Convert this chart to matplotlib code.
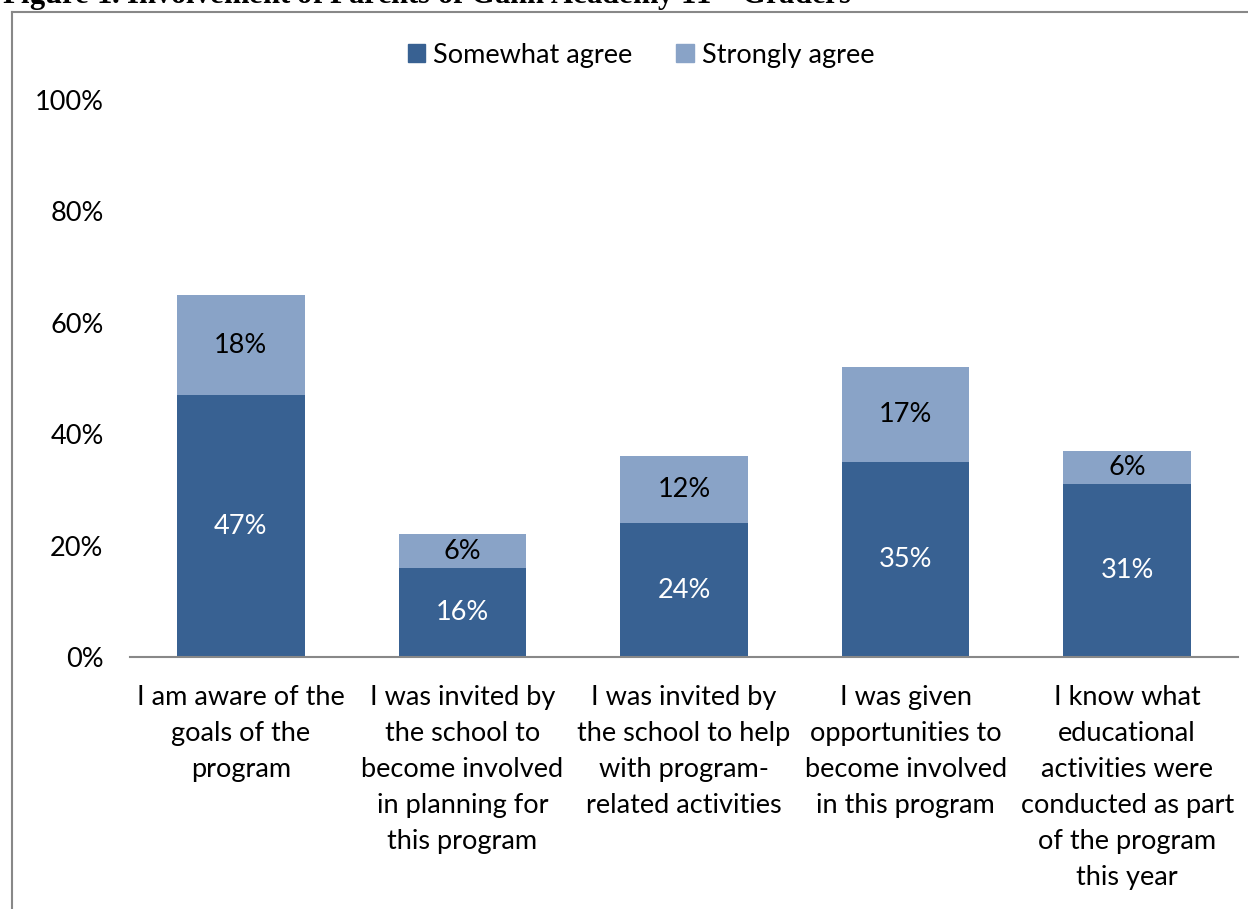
import matplotlib
matplotlib.use("Agg")
import matplotlib.pyplot as plt
from matplotlib.patches import Rectangle
from matplotlib.lines import Line2D

categories = [
    "I am aware of the\ngoals of the\nprogram",
    "I was invited by\nthe school to\nbecome involved\nin planning for\nthis program",
    "I was invited by\nthe school to help\nwith program-\nrelated activities",
    "I was given\nopportunities to\nbecome involved\nin this program",
    "I know what\neducational\nactivities were\nconducted as part\nof the program\nthis year",
]
somewhat_agree = [47, 16, 24, 35, 31]
strongly_agree = [18, 6, 12, 17, 6]
y_ticks = [0, 20, 40, 60, 80, 100]

DARK = "#386192"
LIGHT = "#89A3C7"
FONT = "Lato"
FS = 19.5

W, H = 1248, 909
fig = plt.figure(figsize=(W / 100, H / 100), dpi=100)

# outer chart frame (left and top edges visible)
fig.add_artist(Line2D([12 / W, 12 / W], [0, 1 - 12 / H], color="#888888", lw=1.5))
fig.add_artist(Line2D([12 / W, 1], [1 - 12 / H, 1 - 12 / H], color="#888888", lw=1.5))

# figure caption, partly above the frame
fig.text(2 / W, 1 - 4 / H, "Figure 1. Involvement of Parents of Gann Academy 11$^{\\mathrm{th}}$ Graders",
         family="Liberation Serif", weight="bold", fontsize=22, ha="left", va="baseline")

x0, x1 = 130, 1238
y0, y1 = 657, 100
ax = fig.add_axes([x0 / W, 1 - y0 / H, (x1 - x0) / W, (y0 - y1) / H])

pos = list(range(len(categories)))
bw = 0.575
ax.bar(pos, somewhat_agree, width=bw, color=DARK, label="Somewhat agree")
ax.bar(pos, strongly_agree, width=bw, bottom=somewhat_agree, color=LIGHT, label="Strongly agree")

for i, (a, b) in enumerate(zip(somewhat_agree, strongly_agree)):
    ax.text(i, a / 2, f"{a}%", ha="center", va="center", color="white", fontsize=FS, family=FONT)
    ax.text(i, a + b / 2, f"{b}%", ha="center", va="center", color="black", fontsize=FS, family=FONT)

ax.set_xlim(-0.5, len(categories) - 0.5)
ax.set_ylim(0, 100)
ax.set_yticks(y_ticks)
ax.set_yticklabels([f"{t}%" for t in y_ticks], family=FONT, fontsize=FS)
ax.set_xticks(pos)
ax.set_xticklabels(categories, family=FONT, fontsize=FS, linespacing=1.55)
ax.tick_params(axis="both", length=0)
ax.tick_params(axis="y", pad=19)
ax.tick_params(axis="x", pad=20)
for s in ["top", "right", "left"]:
    ax.spines[s].set_visible(False)
ax.spines["bottom"].set_color("#888888")
ax.spines["bottom"].set_linewidth(1.5)

handles = [Rectangle((0, 0), 1, 1, color=DARK), Rectangle((0, 0), 1, 1, color=LIGHT)]
fig.legend(handles, ["Somewhat agree", "Strongly agree"], loc="center",
           bbox_to_anchor=(641 / W, 1 - 55 / H), ncol=2, frameon=False,
           prop={"family": FONT, "size": FS}, handlelength=0.65, handleheight=0.65,
           handletextpad=0.3, columnspacing=1.6)

fig.savefig("out.png", dpi=100)
